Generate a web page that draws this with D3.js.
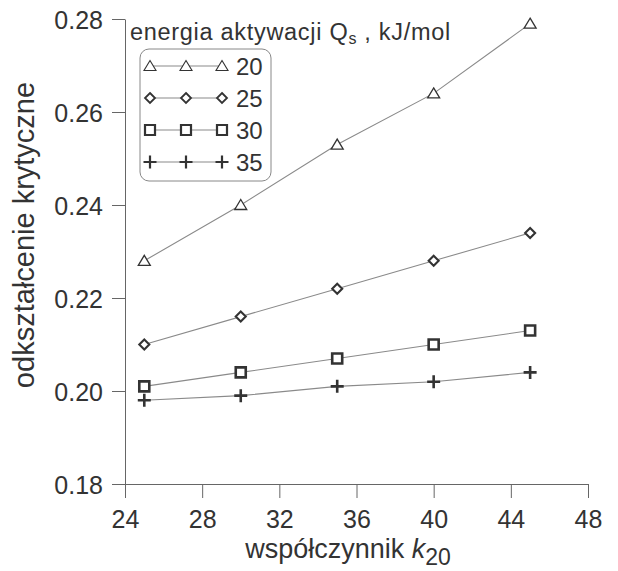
<!DOCTYPE html>
<html>
<head>
<meta charset="utf-8">
<script src="https://cdn.jsdelivr.net/npm/d3@7/dist/d3.min.js"></script>
<style>
  html, body { margin: 0; padding: 0; background: #fff; }
  svg { display: block; font-family: "Liberation Sans", Arial, Helvetica, sans-serif; }
</style>
</head>
<body>
<svg id="chart" width="618" height="571"></svg>
<script>
// k20 coefficient values (x) and critical strain for each activation energy Qs
const k20 = [25, 30, 35, 40, 45];
const energies = [20, 25, 30, 35];
const strain20 = [0.228, 0.240, 0.253, 0.264, 0.279];
const strain25 = [0.210, 0.216, 0.222, 0.228, 0.234];
const strain30 = [0.201, 0.204, 0.207, 0.210, 0.213];
const strain35 = [0.198, 0.199, 0.201, 0.202, 0.204];
const xTicks = [24, 28, 32, 36, 40, 44, 48];
const yTicks = [0.18, 0.20, 0.22, 0.24, 0.26, 0.28];

const seriesValues = [strain20, strain25, strain30, strain35];
const markerKinds = ["triangle", "diamond", "square", "plus"];

const svg = d3.select("#chart");
const ink = "#333";
const lineColor = "#8a8a8a";
const axisColor = "#666";

const x = d3.scaleLinear().domain([24, 48]).range([125, 588]);
const y = d3.scaleLinear().domain([0.18, 0.28]).range([484, 19]);

// open marker outlines centred on (0,0)
function markerPath(kind) {
  const p = d3.path();
  if (kind === "triangle") {
    p.moveTo(0, -5.5); p.lineTo(6, 4.5); p.lineTo(-6, 4.5); p.closePath();
  } else if (kind === "diamond") {
    p.moveTo(0, -5); p.lineTo(5, 0); p.lineTo(0, 5); p.lineTo(-5, 0); p.closePath();
  } else if (kind === "square") {
    p.rect(-5, -5, 10, 10);
  } else {
    p.moveTo(-6.5, 0); p.lineTo(6.5, 0); p.moveTo(0, -6.5); p.lineTo(0, 6.5);
  }
  return p.toString();
}
const markerStroke = { triangle: 1.3, diamond: 2.1, square: 2.6, plus: 2.6 };

// axes
const xAxis = d3.axisBottom(x).tickValues(xTicks).tickSize(14).tickSizeOuter(0).tickPadding(6)
  .tickFormat(d3.format("d"));
const yAxis = d3.axisLeft(y).tickValues(yTicks).tickSize(13).tickSizeOuter(0).tickPadding(9)
  .tickFormat(d3.format(".2f"));

const gx = svg.append("g").attr("transform", `translate(0,${y(0.18)})`).call(xAxis);
const gy = svg.append("g").attr("transform", `translate(${x(24)},0)`).call(yAxis);
[gx, gy].forEach(g => {
  g.selectAll("path.domain").attr("stroke", axisColor).attr("stroke-width", 1);
  g.selectAll(".tick line").attr("stroke", axisColor).attr("stroke-width", 1);
  g.selectAll(".tick text").attr("fill", ink).attr("font-size", 25)
    .attr("font-family", "'Liberation Sans', Arial, sans-serif");
});
gx.selectAll(".tick text").attr("dy", "0.95em");
gy.selectAll(".tick text").attr("dy", "0.36em");

// series lines and markers
const line = d3.line().x((d, i) => x(k20[i])).y(d => y(d));
seriesValues.forEach((vals, s) => {
  svg.append("path").datum(vals).attr("d", line)
    .attr("fill", "none").attr("stroke", lineColor).attr("stroke-width", 1.1);
  svg.append("g").selectAll("path").data(vals).join("path")
    .attr("d", markerPath(markerKinds[s]))
    .attr("transform", (d, i) => `translate(${x(k20[i])},${y(d)})`)
    .attr("fill", markerKinds[s] === "plus" ? "none" : "#fff")
    .attr("stroke", ink).attr("stroke-width", markerStroke[markerKinds[s]]);
});

// axis titles
svg.append("text").attr("x", 348).attr("y", 558).attr("text-anchor", "middle")
  .attr("fill", ink).attr("font-size", 27)
  .call(t => {
    t.append("tspan").text("współczynnik ");
    t.append("tspan").attr("font-style", "italic").text("k");
    t.append("tspan").attr("dy", 7).attr("font-size", 23).text("20");
  });
svg.append("text").attr("transform", "translate(34,235) rotate(-90)")
  .attr("text-anchor", "middle").attr("fill", ink).attr("font-size", 29)
  .text("odkształcenie krytyczne");

// legend
const legend = svg.append("g");
legend.append("text").attr("x", 130).attr("y", 40).attr("fill", ink)
  .attr("font-size", 23.5).attr("letter-spacing", 0.7)
  .call(t => {
    t.append("tspan").text("energia aktywacji Q");
    t.append("tspan").attr("font-size", 16).attr("dy", 4).text("s");
    t.append("tspan").attr("dy", -4).text(" , kJ/mol");
  });
legend.append("rect").attr("x", 140).attr("y", 49).attr("width", 131).attr("height", 132)
  .attr("rx", 9).attr("fill", "none").attr("stroke", "#888").attr("stroke-width", 1);
const legendX = [150, 186, 222];
energies.forEach((e, s) => {
  const ry = 66 + s * 32;
  legend.append("line").attr("x1", legendX[0]).attr("x2", legendX[2])
    .attr("y1", ry).attr("y2", ry).attr("stroke", lineColor).attr("stroke-width", 1.1);
  legendX.forEach(lx => {
    legend.append("path").attr("d", markerPath(markerKinds[s]))
      .attr("transform", `translate(${lx},${ry})`)
      .attr("fill", markerKinds[s] === "plus" ? "none" : "#fff")
      .attr("stroke", ink).attr("stroke-width", markerStroke[markerKinds[s]] * 0.85);
  });
  legend.append("text").attr("x", 236).attr("y", ry).attr("dy", "0.36em")
    .attr("fill", ink).attr("font-size", 24).text(e);
});
</script>
</body>
</html>
